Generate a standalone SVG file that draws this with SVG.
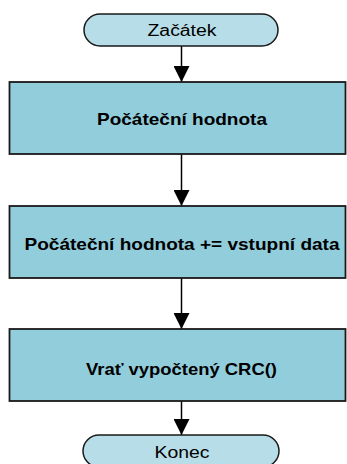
<svg xmlns="http://www.w3.org/2000/svg" width="347" height="464" viewBox="0 0 347 464">
  <style>
    .term { fill: #b7dee8; stroke: #1a1a1a; stroke-width: 1.5; }
    .proc { fill: #92cddc; stroke: #1a1a1a; stroke-width: 1.8; }
    .edge { stroke: #000; stroke-width: 1.5; fill: none; marker-end: url(#arrow); }
    .lbl { font-family: "Liberation Sans", Arial, sans-serif; fill: #000; text-anchor: middle; }
    .reg { font-size: 16px; }
    .bold { font-size: 16.5px; font-weight: bold; }
  </style>
  <defs>
    <marker id="arrow" viewBox="0 0 16 16" refX="16" refY="8" markerWidth="16" markerHeight="16" markerUnits="userSpaceOnUse" orient="auto">
      <path d="M0,0 L16,8 L0,16 Z" fill="#000"/>
    </marker>
  </defs>

  <g id="connectors">
    <line class="edge" x1="181.5" y1="46" x2="181.5" y2="82"/>
    <line class="edge" x1="181.5" y1="154" x2="181.5" y2="206"/>
    <line class="edge" x1="181.5" y1="278" x2="181.5" y2="329"/>
    <line class="edge" x1="181.5" y1="401" x2="181.5" y2="435"/>
  </g>

  <g id="start">
    <rect class="term" x="84" y="14" width="194" height="32" rx="16" ry="16"/>
    <text class="lbl reg" x="182" y="36" textLength="69" lengthAdjust="spacingAndGlyphs">Začátek</text>
  </g>

  <g id="init">
    <rect class="proc" x="9.5" y="82" width="336" height="72"/>
    <text class="lbl bold" x="182" y="125" textLength="170" lengthAdjust="spacingAndGlyphs">Počáteční hodnota</text>
  </g>

  <g id="update">
    <rect class="proc" x="9.5" y="206" width="336" height="72"/>
    <text class="lbl bold" x="182" y="250" textLength="315" lengthAdjust="spacingAndGlyphs">Počáteční hodnota += vstupní data</text>
  </g>

  <g id="result">
    <rect class="proc" x="9.5" y="329" width="336" height="72"/>
    <text class="lbl bold" x="181.5" y="375" textLength="191" lengthAdjust="spacingAndGlyphs">Vrať vypočtený CRC()</text>
  </g>

  <g id="end">
    <rect class="term" x="83" y="435" width="196" height="32" rx="16" ry="16"/>
    <text class="lbl reg" x="182" y="458" textLength="55" lengthAdjust="spacingAndGlyphs">Konec</text>
  </g>
</svg>
